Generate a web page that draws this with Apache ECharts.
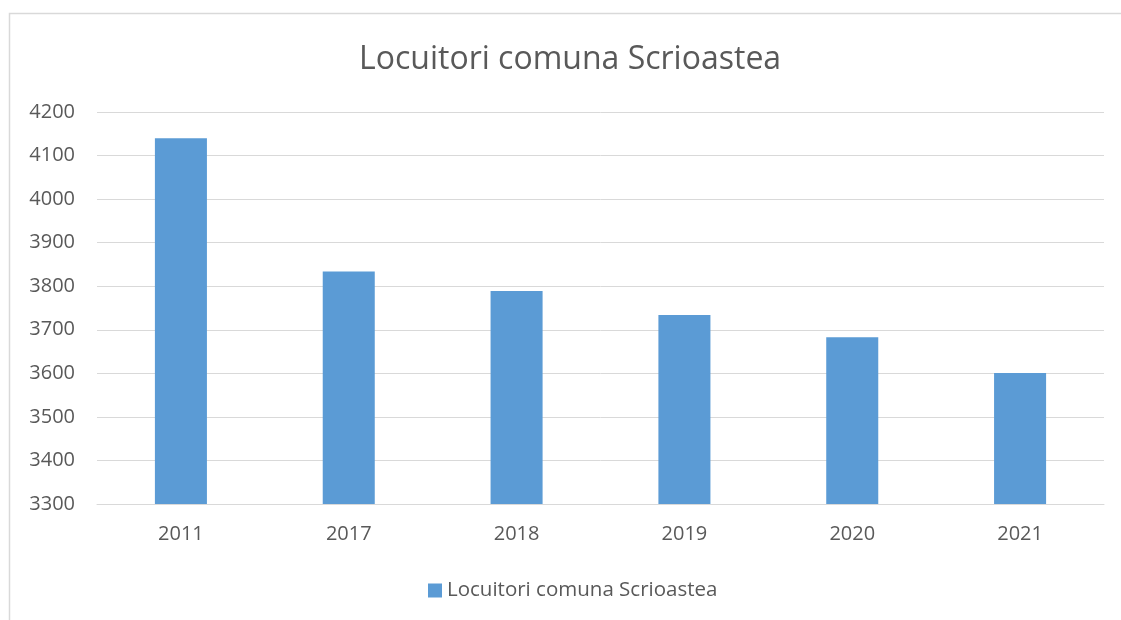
<!DOCTYPE html>
<html><head><meta charset="utf-8">
<script src="https://cdn.jsdelivr.net/npm/echarts@6/dist/echarts.min.js"></script>
<style>html,body{margin:0;padding:0;background:#fff}#c{width:1121px;height:620px}</style>
</head><body><div id="c"></div>
<script>
const categories = ['2011','2017','2018','2019','2020','2021'];
const values = [4140, 3834, 3789, 3734, 3683, 3601];
const seriesName = 'Locuitori comuna Scrioastea';
const titleText = 'Locuitori comuna Scrioastea';
const yMin = 3300, yMax = 4200, yStep = 100;

const chart = echarts.init(document.getElementById('c'), null, {renderer:'canvas'});
const font = '"Open Sans", "Liberation Sans", sans-serif';
chart.setOption({
  animation:false,
  backgroundColor:'#fff',
  graphic:[{type:'rect',shape:{x:9.5,y:13.5,width:1130,height:620},style:{fill:'none',stroke:'#d9d9d9',lineWidth:1.5},silent:true}],
  title:{text:titleText,left:354,top:39,textStyle:{fontFamily:font,fontSize:32,fontWeight:'normal',color:'#595959'}},
  legend:{top:575,left:423,itemWidth:14,itemHeight:14,icon:'rect',itemGap:7,
    textStyle:{fontFamily:font,fontSize:20.5,color:'#595959'},data:[seriesName]},
  grid:{left:97,right:17,top:112,bottom:116,containLabel:false},
  xAxis:{type:'category',data:categories,
    axisLine:{lineStyle:{color:'#d9d9d9',width:1}},axisTick:{show:false},
    axisLabel:{fontFamily:font,fontSize:20,color:'#595959',margin:20}},
  yAxis:{type:'value',min:yMin,max:yMax,interval:yStep,
    axisLine:{show:false},axisTick:{show:false},
    splitLine:{lineStyle:{color:'#d9d9d9',width:1}},
    axisLabel:{fontFamily:font,fontSize:20,color:'#595959',margin:22,formatter:function(v){return String(v);}}},
  series:[{name:seriesName,type:'bar',data:values,barWidth:'31%',
    itemStyle:{color:'#5b9bd5'}}]
});
</script></body></html>
